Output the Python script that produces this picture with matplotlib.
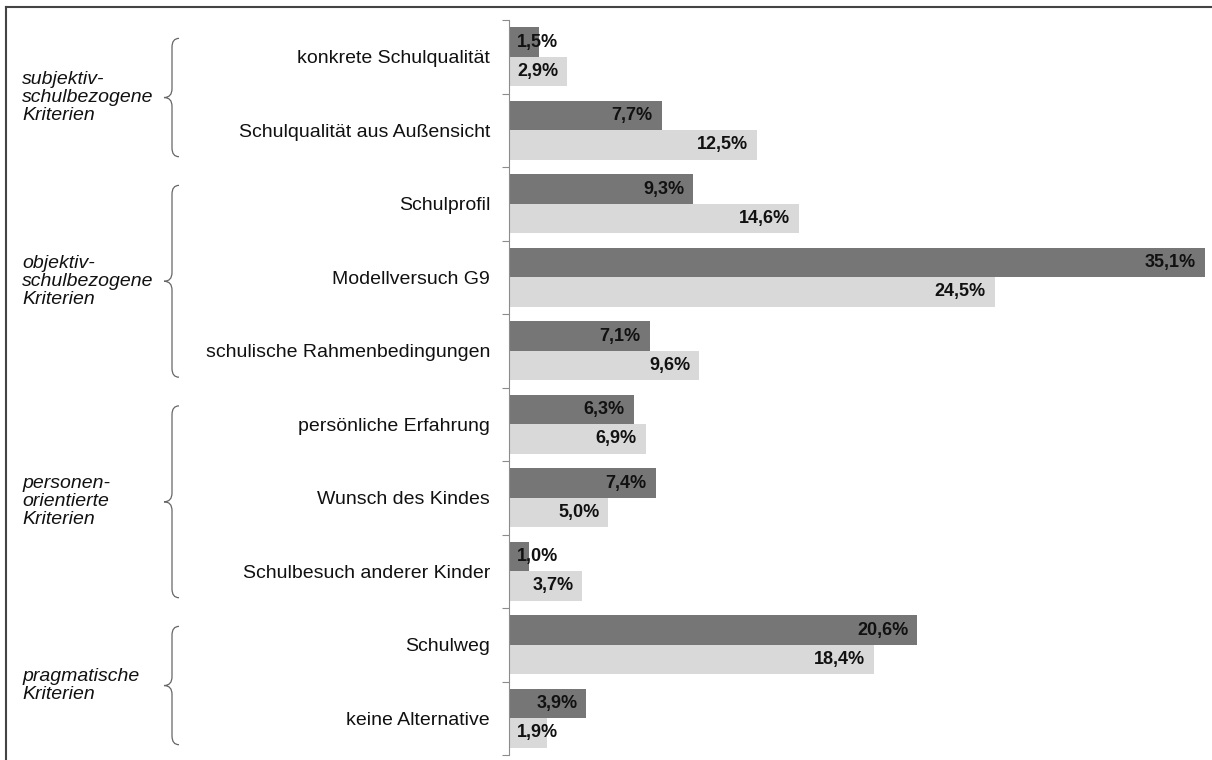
import numpy as np
import matplotlib
matplotlib.use("Agg")
from matplotlib import pyplot as plt
from matplotlib.path import Path
from matplotlib.patches import PathPatch
from matplotlib.transforms import blended_transform_factory

categories = ["konkrete Schulqualität", "Schulqualität aus Außensicht", "Schulprofil",
              "Modellversuch G9", "schulische Rahmenbedingungen", "persönliche Erfahrung",
              "Wunsch des Kindes", "Schulbesuch anderer Kinder", "Schulweg", "keine Alternative"]
dark_vals = [1.5, 7.7, 9.3, 35.1, 7.1, 6.3, 7.4, 1.0, 20.6, 3.9]
light_vals = [2.9, 12.5, 14.6, 24.5, 9.6, 6.9, 5.0, 3.7, 18.4, 1.9]
group_labels = ["subjektiv-\nschulbezogene\nKriterien", "objektiv-\nschulbezogene\nKriterien",
                "personen-\norientierte\nKriterien", "pragmatische\nKriterien"]
group_ranges = [(0, 1), (2, 4), (5, 7), (8, 9)]

DARK = "#767676"
LIGHT = "#d9d9d9"
FONT = "Liberation Sans"


def fmt(v):
    return ("%.1f%%" % v).replace(".", ",")


def brace(fig, ax, y0, y1, x_tip, x_line, x_end):
    # curly brace opening to the right, drawn in (figure x, data y) coords
    tr = blended_transform_factory(fig.transFigure, ax.transData)
    ym = (y0 + y1) / 2
    c = 0.12
    verts = [(x_end, y0), (x_line, y0), (x_line, y0 + c),
             (x_line, ym - c),
             (x_line, ym), (x_tip, ym), (x_tip, ym),
             (x_line, ym), (x_line, ym + c),
             (x_line, y1 - c),
             (x_line, y1), (x_end, y1)]
    codes = [Path.MOVETO, Path.CURVE3, Path.CURVE3,
             Path.LINETO,
             Path.CURVE3, Path.CURVE3, Path.MOVETO,
             Path.CURVE3, Path.CURVE3,
             Path.LINETO,
             Path.CURVE3, Path.CURVE3]
    fig.patches.append(PathPatch(Path(verts, codes), transform=tr, fill=False,
                                 edgecolor="#666666", lw=0.9))


def main():
    W, H = 1212, 760
    fig = plt.figure(figsize=(W / 100, H / 100), dpi=100)
    left, right, top, bottom = 509, 1205, 20, 755
    ax = fig.add_axes([left / W, 1 - bottom / H, (right - left) / W, (bottom - top) / H])

    y = np.arange(len(categories))
    h = 0.4
    ax.barh(y - h / 2, dark_vals, height=h, color=DARK)
    ax.barh(y + h / 2, light_vals, height=h, color=LIGHT)
    ax.set_xlim(0, 35.1)
    ax.set_ylim(len(categories) - 0.5, -0.5)

    for vals, off in ((dark_vals, -h / 2), (light_vals, h / 2)):
        for i, v in enumerate(vals):
            if v < 3.0:
                ax.text(0.42, i + off, fmt(v), ha="left", va="center", fontsize=13,
                        fontweight="bold", family=FONT, color="#111111")
            else:
                ax.text(v - 0.45, i + off, fmt(v), ha="right", va="center", fontsize=13,
                        fontweight="bold", family=FONT, color="#111111")

    for s in ("top", "right", "bottom"):
        ax.spines[s].set_visible(False)
    ax.spines["left"].set_color("#8c8c8c")
    ax.set_xticks([])
    ax.set_yticks(np.arange(len(categories) + 1) - 0.5)
    ax.set_yticklabels([])
    ax.tick_params(axis="y", length=5, color="#8c8c8c")
    tr = blended_transform_factory(fig.transFigure, ax.transData)
    for i, c in enumerate(categories):
        fig.text(490 / W, i + 0.03, c, transform=tr, ha="right", va="center", fontsize=14,
                 family=FONT, color="#111111")

    for lab, (a, b) in zip(group_labels, group_ranges):
        y0, y1 = a - 0.25, b + 0.36
        brace(fig, ax, y0, y1, 164 / W, 172 / W, 179 / W)
        fig.text(22 / W, (y0 + y1) / 2, lab, transform=tr, ha="left", va="center",
                 fontsize=14, style="italic", family=FONT, linespacing=1.08, color="#111111")

    # frame of the slide
    fig.add_artist(plt.Line2D([6 / W, 6 / W], [0, 1 - 7 / H], transform=fig.transFigure,
                              color="#444444", lw=1.5))
    fig.add_artist(plt.Line2D([6 / W, 1], [1 - 7 / H, 1 - 7 / H], transform=fig.transFigure,
                              color="#444444", lw=1.5))

    fig.savefig("out.png", dpi=100)


if __name__ == '__main__':
    main()
